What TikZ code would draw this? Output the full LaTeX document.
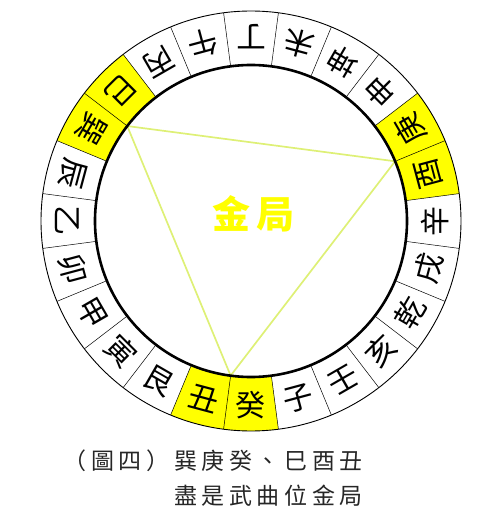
\documentclass[tikz,border=0pt]{standalone}
\usepackage{fontspec}
\newfontfamily\cjk{Noto Sans CJK TC}
\usetikzlibrary{calc}
\definecolor{jinyellow}{RGB}{255,255,0}
\definecolor{trigreen}{RGB}{222,240,118}
\def\Rout{210pt}
\def\Rin{156pt}
\def\Rtxt{184pt}
\def\ringseg(#1:#2){\fill[jinyellow] (#1:\Rin) arc (#1:#2:\Rin) -- (#2:\Rout) arc (#2:#1:\Rout) -- cycle;}
\tikzset{
  mtn/.style={inner sep=0pt, font=\cjk\fontsize{30}{30}\selectfont},
  tri/.style={trigreen, line width=1.7pt},
  captxt/.style={inner sep=0pt, anchor=east, text=black!85,
    font=\cjk\fontsize{23}{23}\selectfont\addfontfeature{LetterSpace=20}}
}

\begin{document}
\begin{tikzpicture}
			%%%%% START %%%%%
			\useasboundingbox (-251pt, 221pt) rectangle (227pt, -293pt);
			
			% yellow mountains
			\ringseg(127.5:157.5)
			\ringseg(7.5:37.5)
			\ringseg(247.5:277.5)
			
			\foreach \a in {7.5,22.5,...,352.5}
				\draw[line width=0.5pt] (\a:\Rin) -- (\a:\Rout);
			\draw[line width=0.9pt] (0,0) circle (\Rout);
			
			\coordinate (xun) at (142.5:\Rin);
			\coordinate (geng) at (22.5:\Rin);
			\coordinate (gui) at (262.5:\Rin);
			\draw[tri] (xun) -- (geng) -- (gui) -- cycle;
			
			\draw[line width=2.6pt] (0,0) circle (\Rin);
			
			\foreach \ch [count=\i from 0] in {辛,酉,庚,申,坤,未,丁,午,丙,巳,巽,辰,乙,卯,甲,寅,艮,丑,癸,子,壬,亥,乾,戌}
				\node[mtn, rotate=\i*15+90] (m\i) at (\i*15:\Rtxt) {\ch};
			
			\node[text=jinyellow, inner sep=0pt, font=\cjk\bfseries\fontsize{38}{38}\selectfont] (jinju) at (3pt, 7pt) {金\hspace{6pt}局};
			
			\node[captxt] (line1) at (112pt, -240pt) {（圖四）巽庚癸、巳酉丑};
			\node[captxt] (line2) at (112pt, -275pt) {盡是武曲位金局};
			
			%%%%% END %%%%%
\end{tikzpicture}
\end{document}
